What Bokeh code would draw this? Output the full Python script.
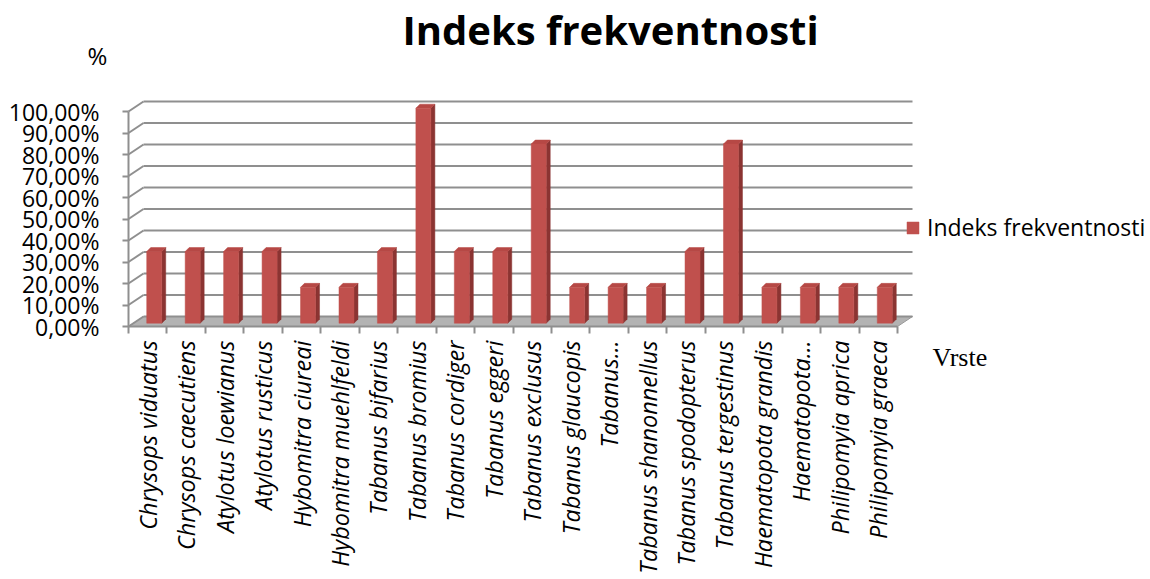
from bokeh.plotting import figure
from bokeh.models import (ColumnDataSource, Range1d, FixedTicker, Label, Legend, LegendItem)
from bokeh.embed import file_html
from bokeh.resources import INLINE

# ---------------- data ----------------
categories = [
    "Chrysops viduatus", "Chrysops caecutiens", "Atylotus loewianus", "Atylotus rusticus",
    "Hybomitra ciureai", "Hybomitra muehlfeldi", "Tabanus bifarius", "Tabanus bromius",
    "Tabanus cordiger", "Tabanus eggeri", "Tabanus exclusus", "Tabanus glaucopis",
    "Tabanus\u2026", "Tabanus shanonnellus", "Tabanus spodopterus", "Tabanus tergestinus",
    "Haematopota grandis", "Haematopota\u2026", "Philipomyia aprica", "Philipomyia graeca",
]
values = [33.33, 33.33, 33.33, 33.33, 16.67, 16.67, 33.33, 100.0, 33.33, 33.33,
          83.33, 16.67, 16.67, 16.67, 33.33, 83.33, 16.67, 16.67, 16.67, 16.67]
y_ticks = [0, 10, 20, 30, 40, 50, 60, 70, 80, 90, 100]
y_tick_labels = ["0,00%", "10,00%", "20,00%", "30,00%", "40,00%", "50,00%",
                 "60,00%", "70,00%", "80,00%", "90,00%", "100,00%"]
series_name = "Indeks frekventnosti"

# ---------------- layout constants ----------------
W, H = 1150, 579
SX_PX = 38.45        # px per category
SY_PX = 2.15         # px per percent
X0_PX, Y0_PX = 128, 326   # where data (0, 0) sits on the canvas
n = len(categories)
DX = 15 / SX_PX          # depth of back wall (x, data)
DY = 10 / SY_PX          # depth of back wall (y, data)
BW = 15 / SX_PX          # bar front width
BOX = 6.5 / SX_PX        # bar x offset into depth
BOY = 3.3 / SY_PX        # bar y offset into depth
BSX = 4 / SX_PX          # bar side depth x
BSY = 4 / SY_PX          # bar top depth y

def X(px):  # canvas px -> data x
    return (px - X0_PX) / SX_PX

def Y(py):  # canvas px -> data y
    return (Y0_PX - py) / SY_PX

p = figure(width=W, height=H,
           x_range=Range1d(X(0), X(W)), y_range=Range1d(Y(H), Y(0)),
           output_backend="svg", toolbar_location=None,
           min_border=0, min_border_left=0, min_border_right=0,
           min_border_top=0, min_border_bottom=0)
p.outline_line_color = None
p.xgrid.visible = False
p.ygrid.visible = False
p.background_fill_color = "white"
p.border_fill_color = "white"

GRID = "#8f8f8f"

# floor
p.patch([0, n, n + DX, DX], [0, 0, DY, DY], fill_color="#b3b3b3",
        line_color="#9a9a9a", line_width=1)

# gridlines: side wall diagonals and back wall horizontals
gsrc = ColumnDataSource(dict(
    x0=[0] * len(y_ticks), y0=y_ticks,
    x1=[DX] * len(y_ticks), y1=[v + DY for v in y_ticks],
    x2=[n + DX] * len(y_ticks)))
p.segment(x0="x0", y0="y0", x1="x1", y1="y1", source=gsrc, line_color=GRID, line_width=2)
p.segment(x0="x1", y0="y1", x1="x2", y1="y1", source=gsrc, line_color=GRID, line_width=2)

# bars
lefts = [i + 0.5 - BW / 2 + BOX for i in range(n)]
rights = [l + BW for l in lefts]
bottoms = [BOY] * n
tops = [v + BOY for v in values]
bsrc = ColumnDataSource(dict(left=lefts, right=rights, bottom=bottoms, top=tops))
side_xs = [[r, r + BSX, r + BSX, r] for r in rights]
side_ys = [[b, b + BSY, t + BSY, t] for b, t in zip(bottoms, tops)]
top_xs = [[l, r, r + BSX, l + BSX] for l, r in zip(lefts, rights)]
top_ys = [[t, t, t + BSY, t + BSY] for t in tops]
p.patches(side_xs, side_ys, fill_color="#8b3432", line_color="#8b3432", line_width=0.5)
p.patches(top_xs, top_ys, fill_color="#b64845", line_color="#b64845", line_width=0.5)
front = p.quad(left="left", right="right", bottom="bottom", top="top", source=bsrc,
               fill_color="#c0504d", line_color="#c0504d", line_width=0.5)

# axes (fixed at data zero, inside the full-canvas frame)
xa = p.xaxis[0]
xa.fixed_location = 0
xa.bounds = (0, n)
xa.ticker = FixedTicker(ticks=[i + 0.5 for i in range(n)], minor_ticks=list(range(n + 1)))
xa.major_label_overrides = {i + 0.5: c for i, c in enumerate(categories)}
xa.major_label_orientation = 3.14159265 / 2
xa.major_tick_out = 0
xa.major_tick_in = 0
xa.minor_tick_out = 7
xa.minor_tick_in = 0
xa.minor_tick_line_color = GRID
xa.minor_tick_line_width = 2
xa.axis_line_color = GRID
xa.axis_line_width = 2
xa.major_label_standoff = 7
xa.major_label_text_font = "Open Sans"
xa.major_label_text_font_style = "italic"
xa.major_label_text_font_size = "23.5px"
xa.major_label_text_color = "black"

ya = p.yaxis[0]
ya.fixed_location = 0
ya.bounds = (0, 100)
ya.ticker = FixedTicker(ticks=y_ticks, minor_ticks=[])
ya.major_label_overrides = {t: l for t, l in zip(y_ticks, y_tick_labels)}
ya.major_tick_out = 6
ya.major_tick_in = 0
ya.major_tick_line_color = GRID
ya.major_tick_line_width = 2
ya.axis_line_color = GRID
ya.axis_line_width = 2
ya.major_label_standoff = 23
ya.major_label_text_font = "Open Sans"
ya.major_label_text_font_size = "23px"
ya.major_label_text_color = "black"

# texts
p.add_layout(Label(x=X(610), y=Y(29), text=series_name, text_align="center",
                   text_baseline="alphabetic", text_font="Open Sans",
                   text_font_style="bold", text_font_size="40px", text_color="black"))
p.add_layout(Label(x=X(97), y=Y(55), text="%", text_align="center",
                   text_baseline="alphabetic", text_font="Open Sans",
                   text_font_size="24px", text_color="black"))
p.add_layout(Label(x=X(932), y=Y(357), text="Vrste", text_align="left",
                   text_baseline="alphabetic", text_font="Liberation Serif",
                   text_font_size="26px", text_color="black"))

legend = Legend(items=[LegendItem(label=series_name, renderers=[front])],
                location=(905, H - 243), orientation="vertical",
                background_fill_alpha=0, border_line_color=None,
                padding=0, margin=0, spacing=0,
                glyph_width=15, glyph_height=15, label_height=15, label_standoff=7,
                label_text_font="Open Sans", label_text_font_size="23px",
                label_text_color="black")
p.add_layout(legend, "center")

open("out.html", "w").write(file_html(p, INLINE))
